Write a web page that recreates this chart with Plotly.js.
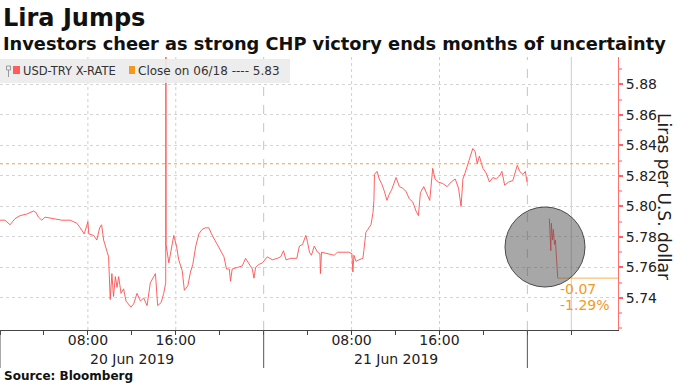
<!DOCTYPE html>
<html>
<head>
<meta charset="utf-8">
<script src="https://cdn.plot.ly/plotly-3.0.1.min.js"></script>
<style>html,body{margin:0;padding:0;background:#fff;}#chart{width:680px;height:383px;}</style>
</head>
<body>
<div id="chart"></div>
<script>
// ---- data ----
const seriesName = 'USD-TRY X-RATE';
const closeLabel = 'Close on 06/18 ---- 5.83';
const closeValue = 5.828;
const changeLabel = '-0.07';
const pctLabel = '-1.29%';

const jun20Times = ['00:00','00:27','00:55','01:22','01:50','02:26','03:02','03:17','03:30','03:48','04:06','04:52','05:38','06:23','07:00','07:18','07:40','08:00','08:05','08:31','08:49','09:04','09:15','09:26','09:40','09:53','10:02','10:11','10:20','10:30','10:39','10:48','11:01','11:15','11:28','11:43','11:55','12:10','12:28','12:47','13:05','13:23','13:41','14:09','14:21','14:40','14:54','15:05','15:06','15:07','15:22','15:34','15:49','16:04','16:16','16:35','16:47','17:06','17:20','17:33','17:49','18:06','18:24','18:42','19:01','19:15','19:28','19:46','20:05','20:23','20:37','20:52','20:59','21:08','21:36','22:03','22:21','22:40','22:58','23:07','23:16','23:34','23:53'];
const jun20Values = [5.791,5.791,5.788,5.792,5.794,5.795,5.797,5.796,5.793,5.791,5.793,5.792,5.791,5.791,5.789,5.786,5.782,5.790,5.782,5.781,5.778,5.786,5.788,5.778,5.772,5.767,5.739,5.756,5.741,5.754,5.747,5.754,5.743,5.746,5.738,5.736,5.734,5.736,5.743,5.738,5.740,5.735,5.750,5.756,5.735,5.737,5.743,5.750,5.950,5.775,5.763,5.771,5.781,5.774,5.765,5.758,5.745,5.748,5.757,5.762,5.774,5.782,5.785,5.786,5.786,5.782,5.779,5.775,5.771,5.767,5.759,5.759,5.751,5.759,5.760,5.761,5.766,5.762,5.759,5.753,5.760,5.762,5.763];

const jun21Times = ['00:20','00:47','01:15','01:33','01:48','02:02','02:28','03:01','03:15','03:32','03:50','03:59','04:10','04:21','04:36','04:54','05:07','05:10','05:16','05:49','06:25','06:43','07:02','07:45','08:02','08:07','08:13','08:24','08:40','09:02','09:07','09:18','09:29','09:46','09:57','10:02','10:05','10:19','10:31','10:44','10:59','11:13','11:26','11:39','12:03','12:21','12:39','12:57','13:15','13:34','13:52','14:05','14:16','14:34','14:52','15:07','15:23','15:36','15:54','16:18','16:42','17:04','17:26','17:44','17:58','18:08','18:20','18:35','18:49','19:02','19:15','19:26','19:38','19:57','20:15','20:33','20:52','21:10','21:28','21:41','21:56','22:18','22:41','22:54','23:05','23:18','23:36','23:49','23:58'];
const jun21Values = [5.767,5.765,5.766,5.767,5.771,5.765,5.766,5.766,5.774,5.775,5.781,5.777,5.770,5.768,5.774,5.770,5.769,5.756,5.770,5.769,5.768,5.770,5.770,5.770,5.769,5.757,5.768,5.764,5.765,5.766,5.771,5.783,5.785,5.788,5.796,5.804,5.821,5.823,5.818,5.815,5.810,5.804,5.808,5.811,5.819,5.813,5.812,5.810,5.805,5.803,5.797,5.794,5.809,5.813,5.808,5.804,5.825,5.818,5.816,5.815,5.813,5.816,5.818,5.812,5.800,5.818,5.822,5.828,5.833,5.838,5.836,5.828,5.833,5.825,5.822,5.816,5.819,5.818,5.820,5.823,5.814,5.816,5.817,5.822,5.827,5.823,5.821,5.823,5.816];

const jun24Times = ['02:00','02:04','02:08','02:11','02:17','02:22','02:28','02:33','02:39','02:44','02:46'];
const jun24Values = [5.792,5.783,5.771,5.789,5.778,5.785,5.775,5.778,5.767,5.756,5.753];

const xRange = ['2019-06-20 00:00', '2019-06-24 08:15'];
const tickTimes = ['2019-06-20 00:00','2019-06-20 04:00','2019-06-20 08:00','2019-06-20 12:00','2019-06-20 16:00','2019-06-20 20:00',
                   '2019-06-21 00:00','2019-06-21 04:00','2019-06-21 08:00','2019-06-21 12:00','2019-06-21 16:00','2019-06-21 20:00',
                   '2019-06-24 00:00','2019-06-24 04:00'];
const tickLabels = ['','','08:00','','16:00','','','','08:00','','16:00','','',''];
const dayLabels = ['20 Jun 2019','21 Jun 2019'];
const dayCenters = ['2019-06-20 12:00','2019-06-21 12:00'];
const dayBoundaries = ['2019-06-20 00:00','2019-06-21 00:00','2019-06-24 00:00'];
const dottedGrid = ['2019-06-20 08:00','2019-06-20 16:00','2019-06-21 08:00','2019-06-21 16:00'];
const dashedGrid = ['2019-06-21 00:00','2019-06-24 00:00'];
const solidGrid = ['2019-06-24 04:00'];
const yTicks = [5.74,5.76,5.78,5.80,5.82,5.84,5.86,5.88];
const yRange = [5.719, 5.898];

// ---- build ----
const xs = [], ys = [];
jun20Times.forEach((t,i)=>{xs.push('2019-06-20 '+t); ys.push(jun20Values[i]);});
jun21Times.forEach((t,i)=>{xs.push('2019-06-21 '+t); ys.push(jun21Values[i]);});
xs.push('2019-06-24 01:00'); ys.push(null);
jun24Times.forEach((t,i)=>{xs.push('2019-06-24 '+t); ys.push(jun24Values[i]);});
const lastX = xs[xs.length-1], lastY = ys[ys.length-1];

// pixel helpers for decoration placement (plot area 618 x 273, top 57)
const PW = 618, PH = 273, PB = 330;
const px = x => x / PW;
const py = y => (PB - y) / PH;
const FONT = 'DejaVu Sans';

const shapes = [];
dottedGrid.forEach(t => shapes.push({type:'line', xref:'x', yref:'paper', x0:t, x1:t, y0:0, y1:1, layer:'below', line:{color:'#cfcfcf', width:1, dash:'dot'}}));
dashedGrid.forEach(t => shapes.push({type:'line', xref:'x', yref:'paper', x0:t, x1:t, y0:0, y1:1, layer:'below', line:{color:'#c4c4c4', width:1, dash:'dash'}}));
solidGrid.forEach(t => shapes.push({type:'line', xref:'x', yref:'paper', x0:t, x1:t, y0:0, y1:1, layer:'below', line:{color:'#cccccc', width:1}}));
dayBoundaries.forEach(t => shapes.push({type:'line', xref:'x', yref:'paper', x0:t, x1:t, y0:0, y1:py(368), line:{color:'#555', width:1}}));
// close reference line
shapes.push({type:'line', xref:'paper', yref:'y', x0:0, x1:1, y0:closeValue, y1:closeValue, line:{color:'#f2a33a', width:1.2, dash:'dot'}});
// last value line
shapes.push({type:'line', xref:'x', yref:'y', x0:lastX, x1:xRange[1], y0:lastY, y1:lastY, line:{color:'#f7b25a', width:1}});
// circle highlight
shapes.push({type:'circle', xref:'paper', yref:'paper', x0:px(505), x1:px(585), y0:py(287), y1:py(207), layer:'above',
             fillcolor:'rgba(80,80,80,0.5)', line:{color:'#4a4a4a', width:1}});
// legend box
shapes.push({type:'rect', xref:'paper', yref:'paper', x0:0, x1:px(290), y0:py(83), y1:py(59), fillcolor:'rgba(236,236,236,0.92)', line:{width:0}, layer:'above'});
shapes.push({type:'rect', xref:'paper', yref:'paper', x0:px(6.5), x1:px(10.5), y0:py(70), y1:py(66), fillcolor:'rgba(0,0,0,0)', line:{color:'#999', width:1}, layer:'above'});
shapes.push({type:'line', xref:'paper', yref:'paper', x0:px(8.5), x1:px(8.5), y0:py(77), y1:py(70), line:{color:'#999', width:1}, layer:'above'});
shapes.push({type:'rect', xref:'paper', yref:'paper', x0:px(13), x1:px(20), y0:py(74), y1:py(66), fillcolor:'#ff5c5c', line:{width:0}, layer:'above'});
shapes.push({type:'rect', xref:'paper', yref:'paper', x0:px(129), x1:px(135), y0:py(74), y1:py(66), fillcolor:'#f39a1e', line:{width:0}, layer:'above'});

const annotations = [
  {xref:'paper', yref:'paper', x:px(1), y:py(18), xanchor:'left', yanchor:'middle', showarrow:false, text:'<b>Lira Jumps</b>', font:{family:FONT, size:24, color:'#111'}},
  {xref:'paper', yref:'paper', x:px(1), y:py(44), xanchor:'left', yanchor:'middle', showarrow:false, text:'<b>Investors cheer as strong CHP victory ends months of uncertainty</b>', font:{family:FONT, size:17.8, color:'#111'}},
  {xref:'paper', yref:'paper', x:px(2), y:py(376), xanchor:'left', yanchor:'middle', showarrow:false, text:'<b>Source: Bloomberg</b>', font:{family:FONT, size:12, color:'#111'}},
  {xref:'paper', yref:'paper', x:px(664), y:py(197), xanchor:'center', yanchor:'middle', showarrow:false, textangle:90, text:'Liras per U.S. dollar', font:{family:FONT, size:17, color:'#222'}},
  {xref:'paper', yref:'paper', x:px(21), y:py(71), xanchor:'left', yanchor:'middle', showarrow:false, text:seriesName, font:{family:FONT, size:11.5, color:'#333'}},
  {xref:'paper', yref:'paper', x:px(136), y:py(71), xanchor:'left', yanchor:'middle', showarrow:false, text:closeLabel, font:{family:FONT, size:12, color:'#333'}},
  {xref:'paper', yref:'paper', x:px(558), y:py(289), xanchor:'left', yanchor:'middle', showarrow:false, text:changeLabel, font:{family:FONT, size:14, color:'#f39a1e'}},
  {xref:'paper', yref:'paper', x:px(558), y:py(305), xanchor:'left', yanchor:'middle', showarrow:false, text:pctLabel, font:{family:FONT, size:14, color:'#f39a1e'}}
];
dayLabels.forEach((d,i)=>annotations.push({xref:'x', yref:'paper', x:dayCenters[i], y:py(359), xanchor:'center', yanchor:'middle', showarrow:false, text:d, font:{family:FONT, size:14, color:'#222'}}));

const trace = {type:'scatter', mode:'lines', x:xs, y:ys, name:seriesName, connectgaps:false,
               line:{color:'rgba(255,80,80,0.9)', width:1}, hoverinfo:'skip'};

const layout = {
  width:680, height:383,
  margin:{l:0, r:62, t:57, b:53, pad:0},
  paper_bgcolor:'#fff', plot_bgcolor:'#fff',
  showlegend:false,
  font:{family:FONT, color:'#222'},
  xaxis:{type:'date', range:xRange, rangebreaks:[{bounds:['sat','mon']}],
         tickmode:'array', tickvals:tickTimes, ticktext:tickLabels,
         ticks:'outside', ticklen:4, tickcolor:'#444', tickwidth:1, ticklabelstandoff:-7,
         showline:true, linecolor:'#444', linewidth:1, showgrid:false, zeroline:false,
         tickfont:{family:FONT, size:14, color:'#222'}, fixedrange:true},
  yaxis:{side:'right', range:yRange, tickmode:'array', tickvals:yTicks, tickformat:'.2f',
         showline:true, linecolor:'#ff7070', linewidth:1,
         ticks:'outside', ticklen:4, tickwidth:2, tickcolor:'#ff6060',
         minor:{dtick:0.01, tick0:5.72, ticks:'outside', ticklen:3, tickcolor:'#ffaaaa', showgrid:false},
         showgrid:true, gridcolor:'#d4d4d4', griddash:'dot', gridwidth:1, zeroline:false,
         tickfont:{family:FONT, size:14, color:'#222'}, fixedrange:true},
  shapes:shapes,
  annotations:annotations
};

Plotly.newPlot('chart', [trace], layout, {staticPlot:true, displayModeBar:false});
</script>
</body>
</html>
